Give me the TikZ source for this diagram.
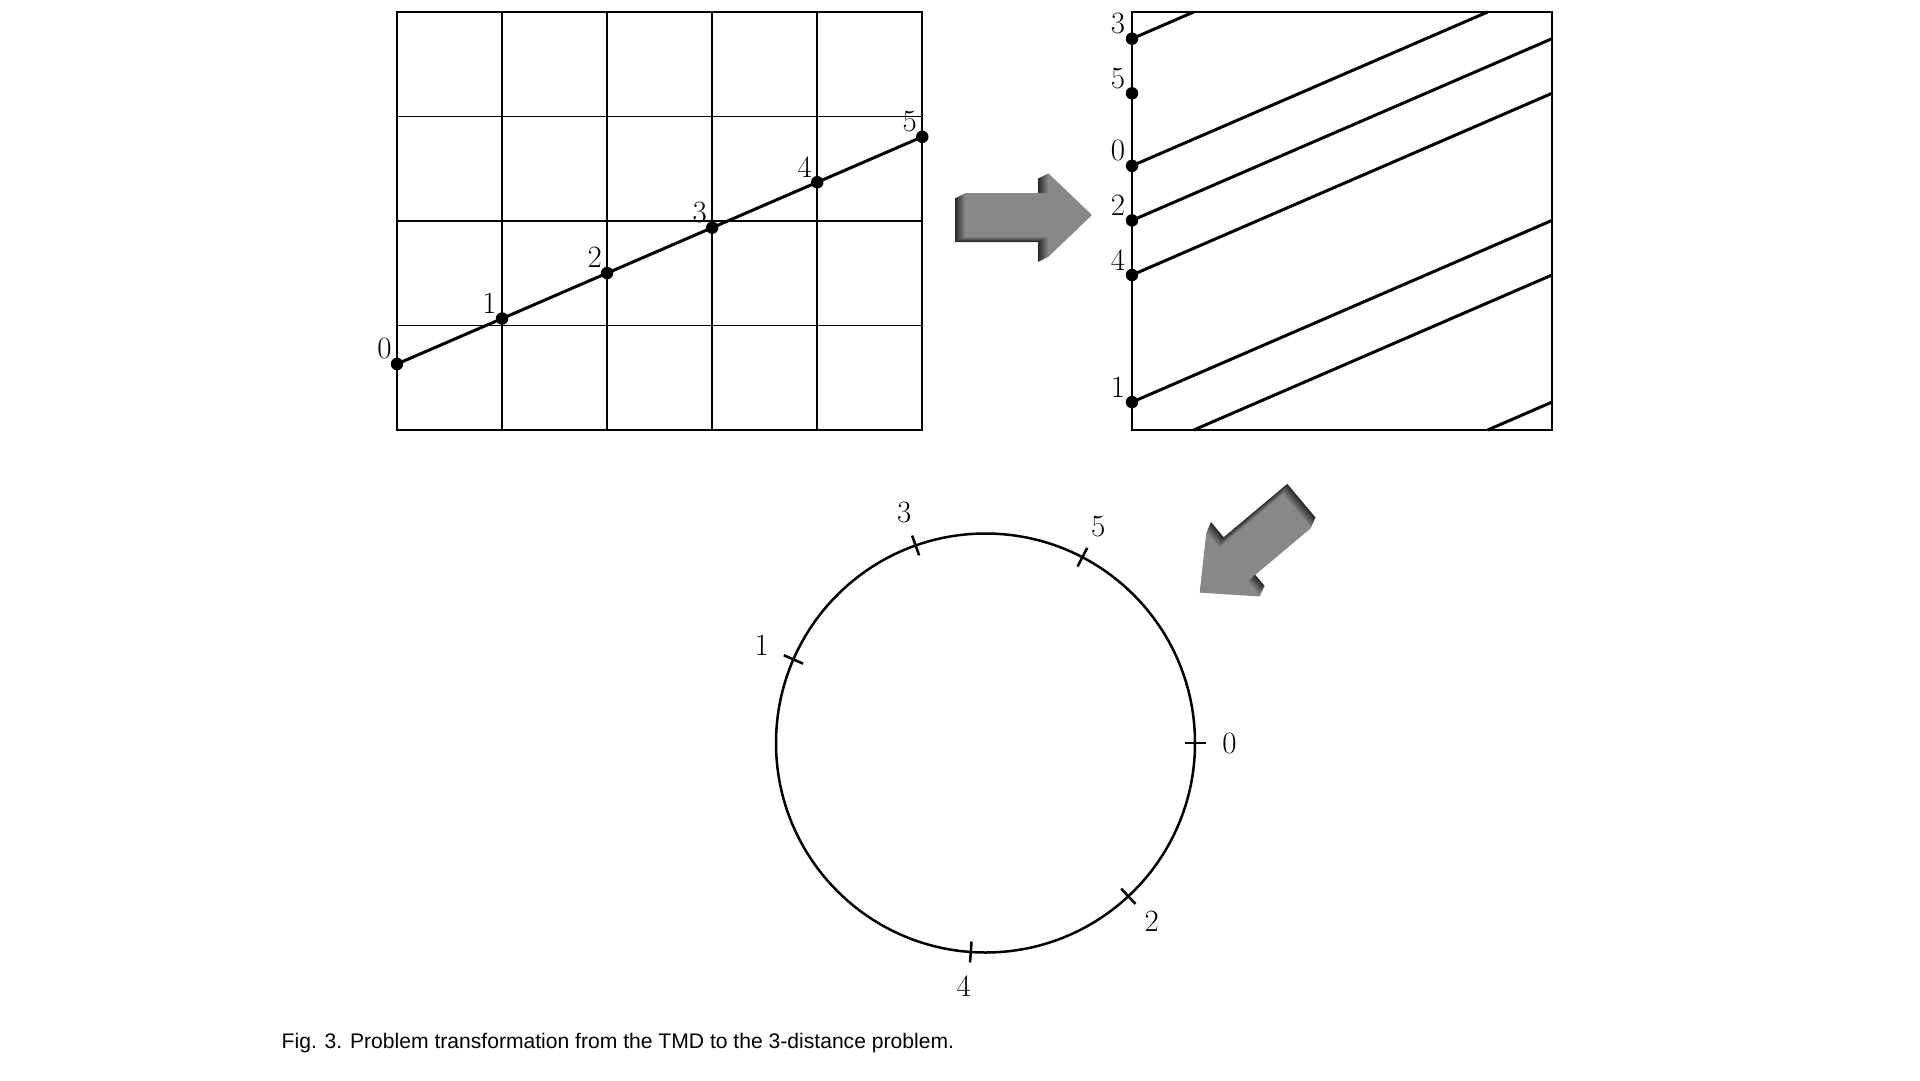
\documentclass[tikz,border=0pt]{standalone}
\usepackage{fontspec}
\newfontfamily\capfont{Liberation Sans}
\definecolor{arrowgray}{RGB}{136,136,136}
\tikzset{
  gridline/.style={line width=1.8pt},
  traj/.style={line width=3pt},
  dot/.style={circle, fill=black, inner sep=0pt, minimum size=12.5pt},
  numlab/.style={font=\fontsize{31}{36}\selectfont, inner sep=0pt},
  tickmark/.style={line width=2.5pt},
  pics/fatarrow/.style={code={
    \foreach \i in {10,9,...,1} {
      \pgfmathtruncatemacro\pc{100-7*\i}
      \fill[arrowgray!\pc!black, shift={(-\i,0.5*\i)}]
        (0,22) -- (83,22) -- (83,42) -- (127,0) -- (83,-42) -- (83,-22) -- (0,-22) -- cycle;
    }
    \fill[arrowgray] (0,22) -- (83,22) -- (83,42) -- (127,0) -- (83,-42) -- (83,-22) -- (0,-22) -- cycle;
  }}
}
\begin{document}
\begin{tikzpicture}[x=1pt,y=-1pt]
\useasboundingbox (0,0) rectangle (1920,1080);

% ---------- left grid ----------
\foreach \i in {1,2,3,4} \draw[gridline] ({397+105.06*\i},12) -- ({397+105.06*\i},430);
\foreach \j in {1,2,3} \draw[gridline] (397,{12+104.5*\j}) -- (922.3,{12+104.5*\j});
\draw[gridline] (397,12) rectangle (922.3,430);

\foreach \k/\yy in {0/363.96,1/318.53,2/273.10,3/227.67,4/182.24,5/136.81} {
  \node[dot] (p\k) at ({397+105.06*\k},\yy) {};
  \node[numlab] (lp\k) at ({397+105.06*\k-12.5},{\yy-15.5}) {\k};
}
\draw[traj] (p0.center) -- (p5.center);

% ---------- right box (torus) ----------
\draw[gridline] (1132,12) rectangle (1552,430);
\foreach \k/\yy in {0/165.8,1/402.1,2/220.4,3/38.7,4/275.0,5/93.3} {
  \node[dot] (q\k) at (1132,\yy) {};
  \node[numlab] (lq\k) at (1118,{\yy-15}) {\k};
}
\coordinate (t3) at (1193.7,12);
\coordinate (b3) at (1193.7,430);
\coordinate (r3) at (1552,275.0);
\coordinate (t0) at (1487.6,12);
\coordinate (b0) at (1487.6,430);
\coordinate (r0) at (1552,402.1);
\coordinate (r2) at (1552,38.7);
\coordinate (r4) at (1552,93.3);
\coordinate (r1) at (1552,220.4);
\draw[traj] (q3.center) -- (t3);
\draw[traj] (b3) -- (r3);
\draw[traj] (q0.center) -- (t0);
\draw[traj] (b0) -- (r0);
\draw[traj] (q2.center) -- (r2);
\draw[traj] (q4.center) -- (r4);
\draw[traj] (q1.center) -- (r1);

% ---------- arrows ----------
\pic (arrR) at (965,215) {fatarrow};
\pic[rotate=220] (arrD) at (1297,511) {fatarrow};

% ---------- circle ----------
\coordinate (ctr) at (985.5,743);
\draw[line width=2.5pt] (ctr) circle[radius=209.5pt];
\foreach \k/\th/\la in {0/0/0,1/156.49/156.49,2/312.98/312.98,3/109.48/109.48,4/265.97/264.9,5/62.46/62.46} {
  \draw[tickmark] ([shift={(\th:199pt)}]ctr) -- ([shift={(\th:220pt)}]ctr);
  \node[numlab] (c\k) at ([shift={(\la:244pt)}]ctr) {\k};
}

% ---------- caption ----------
\node[anchor=base west, inner sep=0pt, font=\capfont\fontsize{21.1}{25}\selectfont] (cap) at (281.5,1048)
  {Fig. 3. Problem transformation from the TMD to the 3-distance problem.};
\end{tikzpicture}
\end{document}
